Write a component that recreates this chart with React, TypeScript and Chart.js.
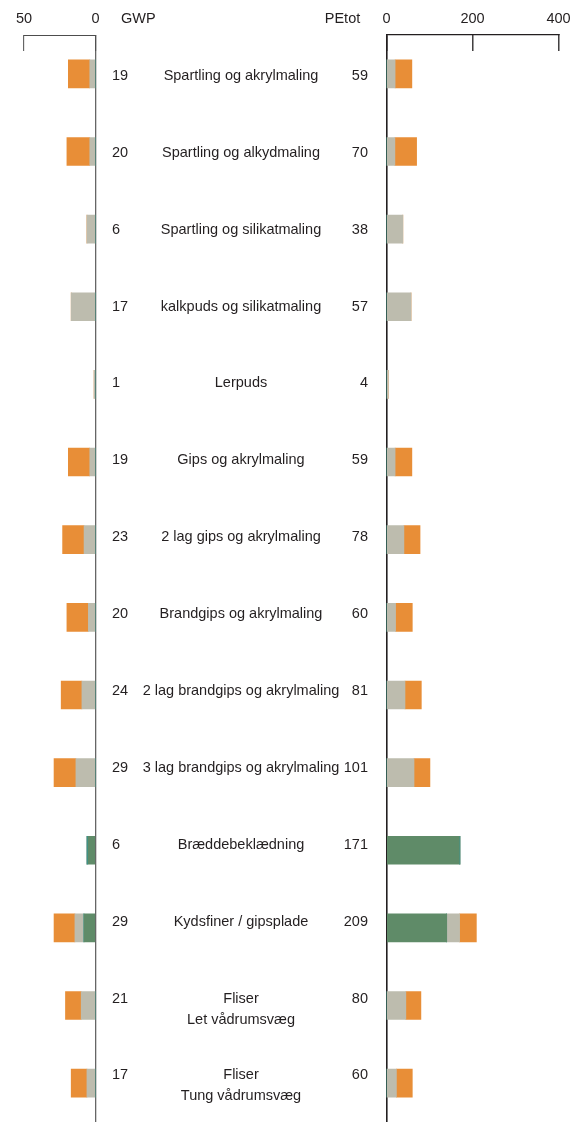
import React, { useEffect, useRef } from "react";
import { Chart, registerables } from "chart.js";

Chart.register(...registerables);

const categories: (string | string[])[] = [
  "Spartling og akrylmaling",
  "Spartling og alkydmaling",
  "Spartling og silikatmaling",
  "kalkpuds og silikatmaling",
  "Lerpuds",
  "Gips og akrylmaling",
  "2 lag gips og akrylmaling",
  "Brandgips og akrylmaling",
  "2 lag brandgips og akrylmaling",
  "3 lag brandgips og akrylmaling",
  "Bræddebeklædning",
  "Kydsfiner / gipsplade",
  ["Fliser", "Let vådrumsvæg"],
  ["Fliser", "Tung vådrumsvæg"],
];

const gwpTotals = [19, 20, 6, 17, 1, 19, 23, 20, 24, 29, 6, 29, 21, 17];
const peTotals = [59, 70, 38, 57, 4, 59, 78, 60, 81, 101, 171, 209, 80, 60];

// GWP components
const gwpGreen = [0, 0, 0, 0, 0, 0, 0, 0, 0, 0, 5.4, 8.1, 0, 0];
const gwpTeal = [0, 0, 0, 0, 0, 0, 0, 0, 0, 0, 0.6, 0, 0, 0];
const gwpGrey = [4, 4, 6, 17, 1, 4, 8, 5, 9.5, 13.7, 0, 6.3, 10, 6];
const gwpOrange = [15, 16, 0, 0, 0, 15, 15, 15, 14.5, 15.3, 0, 14.6, 11, 11];

// PEtot components
const peGreen = [0, 0, 0, 0, 0, 0, 0, 0, 0, 0, 169.5, 140, 0, 0];
const peTeal = [0, 0, 0, 0, 0, 0, 0, 0, 0, 0, 1.5, 0, 0, 0];
const peGrey = [20, 19.5, 38, 57, 4, 20, 40.5, 21, 43, 64, 0, 30, 45, 23];
const peOrange = [39, 50.5, 0, 0, 0, 39, 37.5, 39, 38, 37, 0, 39, 35, 37];

const gwpTicks = [0, 50];
const peTicks = [0, 200, 400];

const GREEN = "#5f8b68";
const TEAL = "#1c98a5";
const GREY = "#bdbcae";
const ORANGE = "#e88e37";
const TEXT = "#231f20";
const FONT = "'Liberation Sans', Arial, sans-serif";
const FS = 14.5;

const midTextPlugin = {
  id: "midText",
  afterDraw(chart: any) {
    const { ctx, scales } = chart;
    const y = scales.y;
    const xL = scales.xL;
    const xR = scales.xR;
    ctx.save();
    ctx.font = `${FS}px ${FONT}`;
    ctx.fillStyle = TEXT;
    ctx.textBaseline = "middle";
    const mid = (xL.right + xR.left) / 2;
    categories.forEach((name, i) => {
      const yc = y.getPixelForValue(i) + 2 - 0.75 * i;
      ctx.textAlign = "left";
      ctx.fillText(String(gwpTotals[i]), xL.right + 16.5, yc);
      ctx.textAlign = "right";
      ctx.fillText(String(peTotals[i]), xR.left - 18.5, yc);
      ctx.textAlign = "center";
      const lines = Array.isArray(name) ? name : [name];
      lines.forEach((ln, k) => ctx.fillText(ln, mid, yc + k * 21));
    });
    const hy = xL.bottom - 16;
    ctx.textAlign = "left";
    ctx.fillText("GWP", xL.right + 25.5, hy);
    ctx.textAlign = "center";
    ctx.fillText("PEtot", xR.left - 44, hy);
    ctx.restore();
  },
};

const fitTop = (s: any) => {
  s.height = 35;
  s.paddingLeft = 0;
  s.paddingRight = 0;
  s.paddingTop = 0;
  s.paddingBottom = 0;
};

export default function App() {
  const ref = useRef<HTMLCanvasElement>(null);

  useEffect(() => {
    if (!ref.current) return;
    const mk = (label: string, data: number[], color: string, axis: string) => ({
      label,
      data,
      backgroundColor: color,
      borderWidth: 0,
      xAxisID: axis,
      yAxisID: "y",
      stack: "a",
      barThickness: 28,
    });
    const chart = new Chart(ref.current, {
      type: "bar",
      data: {
        labels: categories as any,
        datasets: [
          mk("GWP træ", gwpGreen, GREEN, "xL"),
          mk("GWP øvrig", gwpTeal, TEAL, "xL"),
          mk("GWP plade", gwpGrey, GREY, "xL"),
          mk("GWP overflade", gwpOrange, ORANGE, "xL"),
          mk("PEtot træ", peGreen, GREEN, "xR"),
          mk("PEtot øvrig", peTeal, TEAL, "xR"),
          mk("PEtot plade", peGrey, GREY, "xR"),
          mk("PEtot overflade", peOrange, ORANGE, "xR"),
        ] as any,
      },
      plugins: [midTextPlugin],
      options: {
        indexAxis: "y",
        responsive: false,
        maintainAspectRatio: false,
        devicePixelRatio: 1,
        animation: false,
        events: [],
        layout: { padding: { left: 24, right: 15.5, top: 0, bottom: 0 } },
        plugins: {
          legend: { display: false },
          title: { display: false },
          tooltip: { enabled: false },
        },
        scales: {
          y: {
            type: "category",
            display: false,
            stacked: true,
            offset: true,
          },
          xL: {
            type: "linear",
            axis: "x",
            position: "top",
            stack: "top",
            stackWeight: 71.5,
            weight: 3,
            reverse: true,
            min: 0,
            max: 50,
            stacked: true,
            z: 1,
            afterFit: fitTop,
            afterBuildTicks: (s: any) => {
              s.ticks = gwpTicks.map((v) => ({ value: v }));
            },
            border: { display: true, color: "#4d4d4d", width: 1 },
            grid: {
              drawOnChartArea: true,
              drawTicks: true,
              tickLength: -16,
              tickColor: "#4d4d4d",
              tickWidth: 1,
              lineWidth: 1.3,
              color: (c: any) =>
                c.tick && c.tick.value === 0 ? "#666666" : "rgba(0,0,0,0)",
            },
            ticks: {
              padding: 23,
              color: TEXT,
              font: { family: FONT, size: FS },
              maxRotation: 0,
              autoSkip: false,
            },
          },
          xGap: {
            type: "linear",
            axis: "x",
            position: "top",
            stack: "top",
            stackWeight: 291,
            weight: 2,
            display: false,
          },
          xR: {
            type: "linear",
            axis: "x",
            position: "top",
            stack: "top",
            stackWeight: 172,
            weight: 1,
            min: 0,
            max: 400,
            stacked: true,
            z: 1,
            afterFit: fitTop,
            afterBuildTicks: (s: any) => {
              s.ticks = peTicks.map((v) => ({ value: v }));
            },
            border: { display: true, color: "#231f20", width: 1.3 },
            grid: {
              drawOnChartArea: true,
              drawTicks: true,
              tickLength: -16,
              tickColor: "#231f20",
              tickWidth: 1.3,
              lineWidth: 1.6,
              color: (c: any) =>
                c.tick && c.tick.value === 0 ? "#231f20" : "rgba(0,0,0,0)",
            },
            ticks: {
              padding: 23,
              color: TEXT,
              font: { family: FONT, size: FS },
              maxRotation: 0,
              autoSkip: false,
            },
          },
        } as any,
      },
    } as any);
    return () => chart.destroy();
  }, []);

  return (
    <div style={{ position: "absolute", left: 0, top: 0, width: 574, height: 1122 }}>
      <canvas
        ref={ref}
        width={574}
        height={1122}
        style={{ display: "block", width: 574, height: 1122 }}
      />
    </div>
  );
}
